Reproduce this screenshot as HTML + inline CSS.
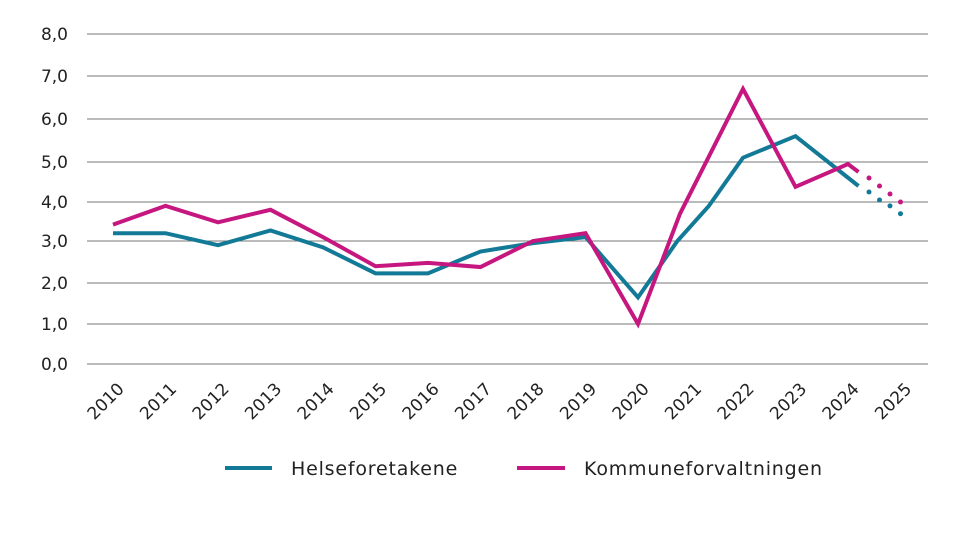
<!DOCTYPE html>
<html><head><meta charset="utf-8"><style>
body{margin:0;background:#fff;font-family:"DejaVu Sans",sans-serif}
svg text{font-family:"DejaVu Sans",sans-serif;fill:#222}
</style></head><body>
<svg id="c" width="967" height="533"></svg>
<script>
const yTicks=[0,1,2,3,4,5,6,7,8];
const yTickLabels=["0,0","1,0","2,0","3,0","4,0","5,0","6,0","7,0","8,0"];
const years=[2010,2011,2012,2013,2014,2015,2016,2017,2018,2019,2020,2021,2022,2023,2024,2025];
const helseX=[2010,2011,2012,2013,2014,2015,2016,2017,2018,2019,2020,2020.75,2021.35,2022,2023,2024.2];
const helseY=[3.2,3.2,2.9,3.27,2.85,2.23,2.23,2.75,2.95,3.1,1.65,3.0,3.9,5.1,5.6,4.4];
const helseDotX=[2024.4,2024.6,2024.8,2025];
const helseDotY=[4.25,4.05,3.9,3.7];
const kommX=[2010,2011,2012,2013,2014,2015,2016,2017,2018,2019,2020,2020.8,2022,2023,2024,2024.2];
const kommY=[3.42,3.9,3.48,3.8,3.1,2.4,2.48,2.38,3.0,3.2,1.0,3.7,6.7,4.38,4.95,4.75];
const kommDotX=[2024.4,2024.6,2024.8,2025];
const kommDotY=[4.6,4.4,4.2,4.0];
const gridPx=[364,324,283,241,202,162,119,76,34];
const X=v=>113+(v-2010)*52.5;
const Y=v=>{const i=Math.max(0,Math.min(7,Math.floor(v)));return gridPx[i]+(v-i)*(gridPx[i+1]-gridPx[i]);};
const s=document.getElementById('c'),NS='http://www.w3.org/2000/svg';
function mk(t,a,p){const e=document.createElementNS(NS,t);for(const k in a)e.setAttribute(k,a[k]);(p||s).appendChild(e);return e;}
yTicks.forEach((v,i)=>{
 const l=mk('line',{x1:87,x2:928,y1:Y(v),y2:Y(v),stroke:'#777','stroke-width':1});
 
 
 const t=mk('text',{x:68,y:Y(v)+6,'text-anchor':'end','font-size':17});
 t.textContent=yTickLabels[i];
 
 
});
years.forEach(y=>{
 const ax=X(y)+12,ay=390;
 const t=mk('text',{x:ax,y:ay,'text-anchor':'end','font-size':17,transform:`rotate(-45 ${ax} ${ay})`});
 t.textContent=y;
 
 
});
function line(xs,ys,col,name){
 const p=mk('polyline',{points:xs.map((x,i)=>X(x)+','+Y(ys[i])).join(' '),fill:'none',stroke:col,'stroke-width':4,'stroke-linejoin':'miter'});
 
 
}
function dots(xs,ys,col,name){
 xs.forEach((x,i)=>{const c=mk('circle',{cx:X(x),cy:Y(ys[i]),r:2.5,fill:col});
 
 });
}
line(helseX,helseY,'#127a97','helseforetakene-line');
line(kommX,kommY,'#c5177f','kommuneforvaltningen-line');
dots(helseDotX,helseDotY,'#127a97','helseforetakene-forecast-dot');
dots(kommDotX,kommDotY,'#c5177f','kommuneforvaltningen-forecast-dot');
const g=mk('g',{});


mk('line',{x1:225,x2:272,y1:468,y2:468,stroke:'#127a97','stroke-width':4},g);
const t1=mk('text',{x:291,y:475,'font-size':19,'letter-spacing':0.8},g);t1.textContent='Helseforetakene';


mk('line',{x1:517,x2:565,y1:468,y2:468,stroke:'#c5177f','stroke-width':4},g);
const t2=mk('text',{x:584,y:475,'font-size':19,'letter-spacing':0.8},g);t2.textContent='Kommuneforvaltningen';


</script>
</body></html>
